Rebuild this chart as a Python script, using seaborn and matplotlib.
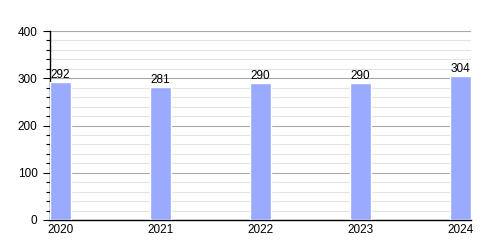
import matplotlib
matplotlib.use("Agg")
import matplotlib.pyplot as plt
import seaborn as sns
import pandas as pd
from matplotlib.ticker import MultipleLocator

years = ["2020", "2021", "2022", "2023", "2024"]
values = [292, 281, 290, 290, 304]

sns.set_theme(style="white")
plt.rcParams['font.family'] = ['Liberation Sans', 'DejaVu Sans']
plt.rcParams['text.color'] = 'black'
plt.rcParams['xtick.color'] = 'black'
plt.rcParams['ytick.color'] = 'black'

df = pd.DataFrame({"year": years, "value": values})

fig = plt.figure(figsize=(5, 2.5), dpi=100)
ax = fig.add_axes([0.1, 0.12, 0.842, 0.756])
sns.barplot(data=df, x="year", y="value", color="#99aaff", width=0.21,
            saturation=1, ax=ax, zorder=3)
ax.set_xlim(-0.105, 4.105)
ax.set_ylim(0, 400)
ax.yaxis.set_major_locator(MultipleLocator(100))
ax.yaxis.set_minor_locator(MultipleLocator(20))
ax.grid(which="major", axis="y", color="#a8a8a8", linewidth=0.8, zorder=0)
ax.grid(which="minor", axis="y", color="#e4e4e4", linewidth=0.8, zorder=0)
ax.set_axisbelow(True)
for s in ["top", "right"]:
    ax.spines[s].set_visible(False)
ax.spines["left"].set_color("black")
ax.spines["bottom"].set_color("black")
ax.spines["left"].set_linewidth(1)
ax.spines["bottom"].set_linewidth(1)
ax.tick_params(axis="y", which="major", length=5, width=0.8, color="black",
               labelsize=8.5, pad=4, left=True, labelcolor="black")
ax.tick_params(axis="y", which="minor", length=3, width=0.8, color="black", left=True)
ax.tick_params(axis="x", length=0, labelsize=8.5, pad=3, labelcolor="black")
ax.set_xlabel("")
ax.set_ylabel("")
for c in ax.containers:
    ax.bar_label(c, labels=[str(v) for v in values], fontsize=8.5, padding=1,
                 color="black")
fig.savefig("out.png", dpi=100)
